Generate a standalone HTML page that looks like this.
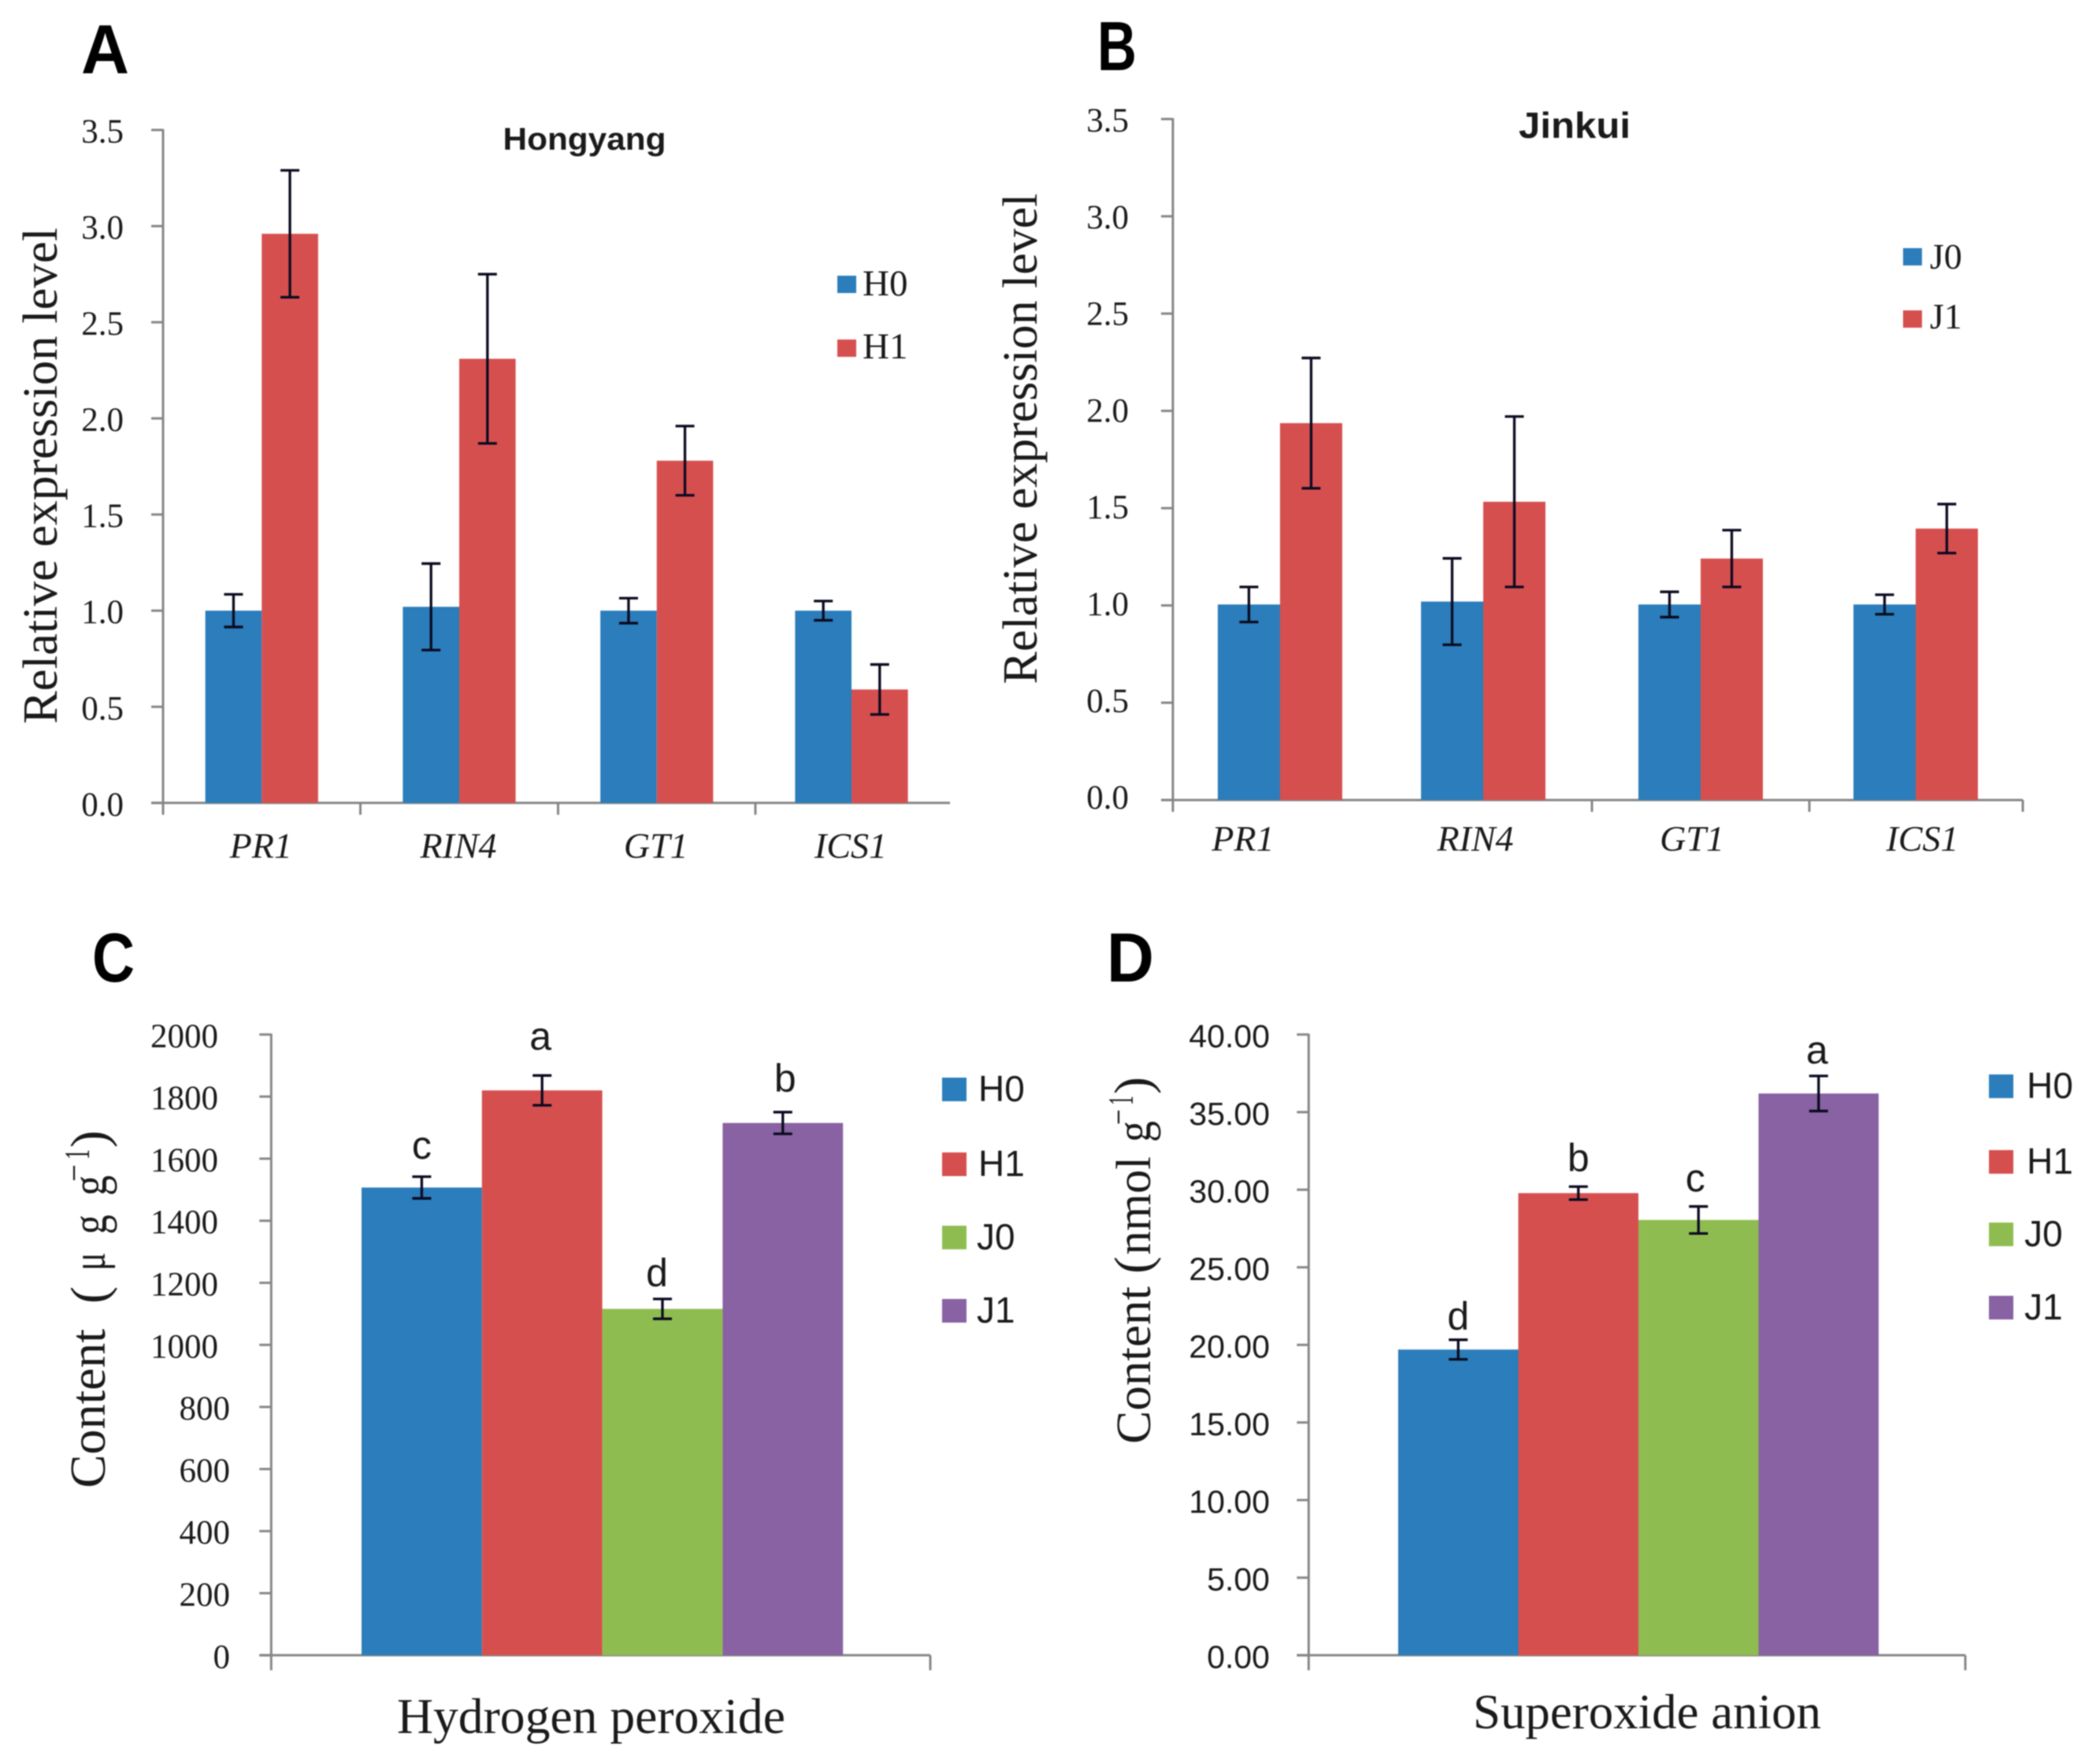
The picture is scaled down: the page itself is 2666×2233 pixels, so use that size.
<!DOCTYPE html>
<html lang="en">
<head>
<meta charset="utf-8">
<title>Relative expression and ROS content charts</title>
<style>
html,body{margin:0;padding:0;background:#fff;width:2666px;height:2233px;overflow:hidden}
svg{display:block;filter:blur(0.7px)}
.serif{font-family:"Liberation Serif","DejaVu Serif",serif;fill:#1a1a1a}
.sans{font-family:"Liberation Sans","DejaVu Sans",sans-serif;fill:#1a1a1a}
.panel{font-family:"Liberation Sans",sans-serif;font-weight:bold;font-size:88px;fill:#000}
</style>
</head>
<body>
<svg id="figure" width="2666" height="2233" viewBox="0 0 2666 2233" xmlns="http://www.w3.org/2000/svg">
  <rect x="0" y="0" width="2666" height="2233" fill="#ffffff"/>

  <text class="panel" x="103" y="93" textLength="61" lengthAdjust="spacingAndGlyphs">A</text>
  <text class="panel" x="1393" y="89" textLength="50" lengthAdjust="spacingAndGlyphs">B</text>
  <text class="panel" x="117" y="1246" textLength="54" lengthAdjust="spacingAndGlyphs">C</text>
  <text class="panel" x="1405" y="1246" textLength="60" lengthAdjust="spacingAndGlyphs">D</text>

  <text class="sans" x="742" y="190" text-anchor="middle" font-size="40" font-weight="bold" textLength="207" lengthAdjust="spacingAndGlyphs">Hongyang</text>
  <text class="sans" x="1999" y="175" text-anchor="middle" font-size="46" font-weight="bold" textLength="142" lengthAdjust="spacingAndGlyphs">Jinkui</text>

  <text class="serif" transform="translate(72,604) rotate(-90)" text-anchor="middle" font-size="62" textLength="630" lengthAdjust="spacingAndGlyphs">Relative expression level</text>
  <text class="serif" transform="translate(1316,557) rotate(-90)" text-anchor="middle" font-size="62" textLength="623" lengthAdjust="spacingAndGlyphs">Relative expression level</text>

  <g>
    <text class="serif" transform="translate(133,1889) rotate(-90)" font-size="63" textLength="202" lengthAdjust="spacingAndGlyphs">Content</text>
    <text class="serif" transform="translate(135,1655) rotate(-90)" font-size="66">(</text>
    <text class="serif" transform="translate(133,1613) rotate(-90)" font-size="60" textLength="23" lengthAdjust="spacingAndGlyphs">μ</text>
    <text class="serif" transform="translate(135,1567) rotate(-90)" font-size="64" textLength="25" lengthAdjust="spacingAndGlyphs">g</text>
    <text class="serif" transform="translate(135,1518) rotate(-90)" font-size="64" textLength="26" lengthAdjust="spacingAndGlyphs">g</text>
    <text class="serif" transform="translate(109,1500) rotate(-90)" font-size="45" textLength="22" lengthAdjust="spacingAndGlyphs">−</text>
    <text class="serif" transform="translate(113,1472) rotate(-90)" font-size="45" textLength="13" lengthAdjust="spacingAndGlyphs">1</text>
    <text class="serif" transform="translate(135,1457) rotate(-90)" font-size="66">)</text>
  </g>
  <g>
    <text class="serif" transform="translate(1460,1833) rotate(-90)" font-size="62" textLength="200" lengthAdjust="spacingAndGlyphs">Content</text>
    <text class="serif" transform="translate(1460,1617) rotate(-90)" font-size="66">(</text>
    <text class="serif" transform="translate(1460,1593) rotate(-90)" font-size="62" textLength="125" lengthAdjust="spacingAndGlyphs">nmol</text>
    <text class="serif" transform="translate(1460,1450) rotate(-90)" font-size="62" textLength="27" lengthAdjust="spacingAndGlyphs">g</text>
    <text class="serif" transform="translate(1435,1428) rotate(-90)" font-size="45" textLength="20" lengthAdjust="spacingAndGlyphs">−</text>
    <text class="serif" transform="translate(1438,1403) rotate(-90)" font-size="45" textLength="12" lengthAdjust="spacingAndGlyphs">1</text>
    <text class="serif" transform="translate(1460,1389) rotate(-90)" font-size="66">)</text>
  </g>

  <text class="serif" x="504" y="2200" font-size="63" textLength="493" lengthAdjust="spacingAndGlyphs">Hydrogen peroxide</text>
  <text class="serif" x="1870" y="2194" font-size="62" textLength="442" lengthAdjust="spacingAndGlyphs">Superoxide anion</text>

  <g>
    <g><rect x="1063" y="350" width="24" height="22" fill="#2b7dbb"/><text class="serif" x="1095" y="375" font-size="47">H0</text></g>
    <g><rect x="1063" y="431" width="24" height="22" fill="#d64f4f"/><text class="serif" x="1095" y="455" font-size="47">H1</text></g>
  </g>
  <g>
    <g><rect x="2416" y="315" width="24" height="22" fill="#2b7dbb"/><text class="serif" x="2450" y="341" font-size="46">J0</text></g>
    <g><rect x="2416" y="394" width="24" height="22" fill="#d64f4f"/><text class="serif" x="2450" y="417" font-size="46">J1</text></g>
  </g>
  <g>
    <g><rect x="1196" y="1368" width="31" height="30" fill="#2b7dbb"/><text class="sans" x="1242" y="1398" font-size="46">H0</text></g>
    <g><rect x="1196" y="1463" width="31" height="30" fill="#d64f4f"/><text class="sans" x="1242" y="1493" font-size="46">H1</text></g>
    <g><rect x="1196" y="1556" width="31" height="30" fill="#8fbc50"/><text class="sans" x="1240" y="1586" font-size="46">J0</text></g>
    <g><rect x="1196" y="1649" width="31" height="30" fill="#8862a2"/><text class="sans" x="1240" y="1679" font-size="46">J1</text></g>
  </g>
  <g>
    <g><rect x="2525" y="1364" width="31" height="30" fill="#2b7dbb"/><text class="sans" x="2573" y="1394" font-size="46">H0</text></g>
    <g><rect x="2525" y="1460" width="31" height="30" fill="#d64f4f"/><text class="sans" x="2573" y="1490" font-size="46">H1</text></g>
    <g><rect x="2525" y="1552" width="31" height="30" fill="#8fbc50"/><text class="sans" x="2570" y="1582" font-size="46">J0</text></g>
    <g><rect x="2525" y="1645" width="31" height="30" fill="#8862a2"/><text class="sans" x="2570" y="1675" font-size="46">J1</text></g>
  </g>
</svg>

<script>
// Chart A data
const aCategories = ['PR1', 'RIN4', 'GT1', 'ICS1'];
const aH0Values = [1.0, 1.02, 1.0, 1.0];
const aH1Values = [2.96, 2.31, 1.78, 0.59];
const aH0Errors = [0.085, 0.225, 0.065, 0.05];
const aH1Errors = [0.33, 0.44, 0.18, 0.13];
const aTickLabels = ['0.0', '0.5', '1.0', '1.5', '2.0', '2.5', '3.0', '3.5'];

// Chart B data
const bCategories = ['PR1', 'RIN4', 'GT1', 'ICS1'];
const bJ0Values = [1.005, 1.02, 1.005, 1.005];
const bJ1Values = [1.937, 1.533, 1.241, 1.395];
const bJ0Errors = [0.09, 0.222, 0.065, 0.05];
const bJ1Errors = [0.335, 0.438, 0.146, 0.126];
const bTickLabels = ['0.0', '0.5', '1.0', '1.5', '2.0', '2.5', '3.0', '3.5'];

// Chart C data
const cSeries = ['H0', 'H1', 'J0', 'J1'];
const cValues = [1507, 1820, 1116, 1715];
const cErrors = [35, 48, 32, 35];
const cLetters = ['c', 'a', 'd', 'b'];
const cTickLabels = ['0', '200', '400', '600', '800', '1000', '1200', '1400', '1600', '1800', '2000'];

// Chart D data
const dSeries = ['H0', 'H1', 'J0', 'J1'];
const dValues = [19.7, 29.78, 28.05, 36.2];
const dErrors = [0.63, 0.42, 0.87, 1.13];
const dLetters = ['d', 'b', 'c', 'a'];
const dTickLabels = ['0.00', '5.00', '10.00', '15.00', '20.00', '25.00', '30.00', '35.00', '40.00'];

const SVG_NS = 'http://www.w3.org/2000/svg';
const AXIS_COLOR = '#868686';
const BLUE = '#2b7dbb';
const RED = '#d64f4f';
const GREEN = '#8fbc50';
const PURPLE = '#8862a2';
const figure = document.getElementById('figure');

function make(tag, parent, attrs) {
  const el = document.createElementNS(SVG_NS, tag);
  for (const k in attrs) el.setAttribute(k, attrs[k]);
  parent.appendChild(el);
  return el;
}

function yScale(geo, v) {
  return geo.y0 - (v / geo.max) * (geo.y0 - geo.yTop);
}

function drawLine(parent, name, x1, y1, x2, y2, color, width) {
  const el = make('line', parent, { x1, y1, x2, y2, stroke: color, 'stroke-width': width });
  
  
  return el;
}

function drawLabel(parent, name, str, x, y, cls, size, anchor, italic) {
  const el = make('text', parent, { x, y, class: cls, 'font-size': size, 'text-anchor': anchor });
  if (italic) el.setAttribute('font-style', 'italic');
  el.textContent = str;
  
  
  return el;
}

function drawBar(parent, name, x, w, geo, value, color) {
  const top = yScale(geo, value);
  const el = make('rect', parent, { x, y: top, width: w, height: geo.y0 - top, fill: color });
  
  
  return el;
}

function drawError(parent, name, cx, geo, value, err) {
  const g = make('g', parent, {});
  
  
  const hi = yScale(geo, value + err);
  const lo = yScale(geo, value - err);
  make('line', g, { x1: cx, y1: hi, x2: cx, y2: lo, stroke: '#0a0a20', 'stroke-width': 3.3 });
  make('line', g, { x1: cx - 12, y1: hi, x2: cx + 12, y2: hi, stroke: '#0a0a20', 'stroke-width': 3.3 });
  make('line', g, { x1: cx - 12, y1: lo, x2: cx + 12, y2: lo, stroke: '#0a0a20', 'stroke-width': 3.3 });
}

function drawYAxis(parent, prefix, geo, labels) {
  drawLine(parent, prefix + '-y-axis', geo.x0, geo.yTop - 1, geo.x0, geo.y0 + 1, AXIS_COLOR, 3);
  labels.forEach(function (label) {
    const value = parseFloat(label);
    const y = yScale(geo, value);
    drawLine(parent, prefix + '-y-tick', geo.x0 - 15, y, geo.x0, y, AXIS_COLOR, 3);
    const shift = geo.shortShift && label.length < 4 ? geo.shortShift : 0;
    const drift = (geo.labelDrift || 0) * (1 - value / geo.max);
    drawLabel(parent, prefix + '-y-tick-label', label, geo.labelRight + shift, y + 16 + drift, geo.labelClass, geo.labelSize, 'end', false);
  });
}

function drawXAxis(parent, prefix, geo, tickXs) {
  drawLine(parent, prefix + '-x-axis', geo.x0 - 15, geo.y0, geo.x1, geo.y0, AXIS_COLOR, 3);
  tickXs.forEach(function (x) {
    drawLine(parent, prefix + '-x-tick', x, geo.y0, x, geo.y0 + geo.tickLen, AXIS_COLOR, 3);
  });
}

function drawGrouped(prefix, geo, categories, series) {
  const g = make('g', figure, {});
  
  
  drawYAxis(g, prefix, geo, geo.ticks);
  drawXAxis(g, prefix, geo, geo.edges.filter(function (e, i) { return geo.tickIndexes.indexOf(i) >= 0; }));
  categories.forEach(function (cat, i) {
    const center = (geo.edges[i] + geo.edges[i + 1]) / 2 + geo.groupShift[i];
    series.forEach(function (s, j) {
      const x = center + (j - 1) * geo.barWidth;
      drawBar(g, prefix + '-bar-' + cat.toLowerCase() + '-' + s.name.toLowerCase(), x, geo.barWidth, geo, s.values[i], s.color);
    });
    series.forEach(function (s, j) {
      const x = center + (j - 1) * geo.barWidth + geo.barWidth / 2;
      drawError(g, prefix + '-error-' + cat.toLowerCase() + '-' + s.name.toLowerCase(), x, geo, s.values[i], s.errors[i]);
    });
    drawLabel(g, prefix + '-category-' + cat.toLowerCase(), cat, center + geo.labelShift[i], geo.catBaseline, 'serif', 46, 'middle', true);
  });
}

function drawSingle(prefix, geo, series, values, errors, letters, colors) {
  const g = make('g', figure, {});
  
  
  drawYAxis(g, prefix, geo, geo.ticks);
  drawXAxis(g, prefix, geo, [geo.x0, geo.x1]);
  series.forEach(function (s, i) {
    const x = geo.barStart + i * geo.barWidth;
    drawBar(g, prefix + '-bar-' + s.toLowerCase(), x, geo.barWidth, geo, values[i], colors[i]);
  });
  series.forEach(function (s, i) {
    const cx = geo.barStart + (i + 0.5) * geo.barWidth;
    drawError(g, prefix + '-error-' + s.toLowerCase(), cx, geo, values[i], errors[i]);
    const top = yScale(geo, values[i] + errors[i]);
    drawLabel(g, prefix + '-significance-' + s.toLowerCase(), letters[i], cx + geo.letterShift[i], top - geo.letterLift[i], 'sans', 50, 'middle', false);
  });
}

drawGrouped('chart-a', {
  x0: 207, x1: 1206, y0: 1019.3, yTop: 165, max: 3.5, ticks: aTickLabels,
  labelRight: 157, labelClass: 'serif', labelSize: 43, tickLen: 15,
  edges: [207, 457.5, 708.5, 959, 1210], tickIndexes: [0, 1, 2, 3],
  groupShift: [0, 0, 0, -3.5], labelShift: [-1, -1, -1, -1], barWidth: 71.6, catBaseline: 1089
}, aCategories, [
  { name: 'H0', values: aH0Values, errors: aH0Errors, color: BLUE },
  { name: 'H1', values: aH1Values, errors: aH1Errors, color: RED }
]);

drawGrouped('chart-b', {
  x0: 1489, x1: 2568, y0: 1015.6, yTop: 151.1, max: 3.5, ticks: bTickLabels,
  labelRight: 1433, labelClass: 'serif', labelSize: 43, tickLen: 15, labelDrift: -5,
  edges: [1489, 1755, 2021, 2297, 2568], tickIndexes: [0, 2, 3, 4],
  groupShift: [3, -5, 0, -0.5], labelShift: [-47, -10, -11, 8.5], barWidth: 79, catBaseline: 1080
}, bCategories, [
  { name: 'J0', values: bJ0Values, errors: bJ0Errors, color: BLUE },
  { name: 'J1', values: bJ1Values, errors: bJ1Errors, color: RED }
]);

drawSingle('chart-c', {
  x0: 344.3, x1: 1181, y0: 2101.3, yTop: 1313.3, max: 2000, ticks: cTickLabels,
  labelRight: 277, shortShift: 15, labelClass: 'serif', labelSize: 43, tickLen: 19,
  barStart: 459, barWidth: 152.8, letterLift: [23, 33, 16, 26], letterShift: [0, -2, -7, 3]
}, cSeries, cValues, cErrors, cLetters, [BLUE, RED, GREEN, PURPLE]);

drawSingle('chart-d', {
  x0: 1661.4, x1: 2495, y0: 2101.3, yTop: 1313.3, max: 40, ticks: dTickLabels,
  labelRight: 1612, labelClass: 'sans', labelSize: 41, tickLen: 19,
  barStart: 1775, barWidth: 152.5, letterLift: [13, 19.5, 19, 16], letterShift: [0, 0, -4, -2]
}, dSeries, dValues, dErrors, dLetters, [BLUE, RED, GREEN, PURPLE]);
</script>
</body>
</html>
